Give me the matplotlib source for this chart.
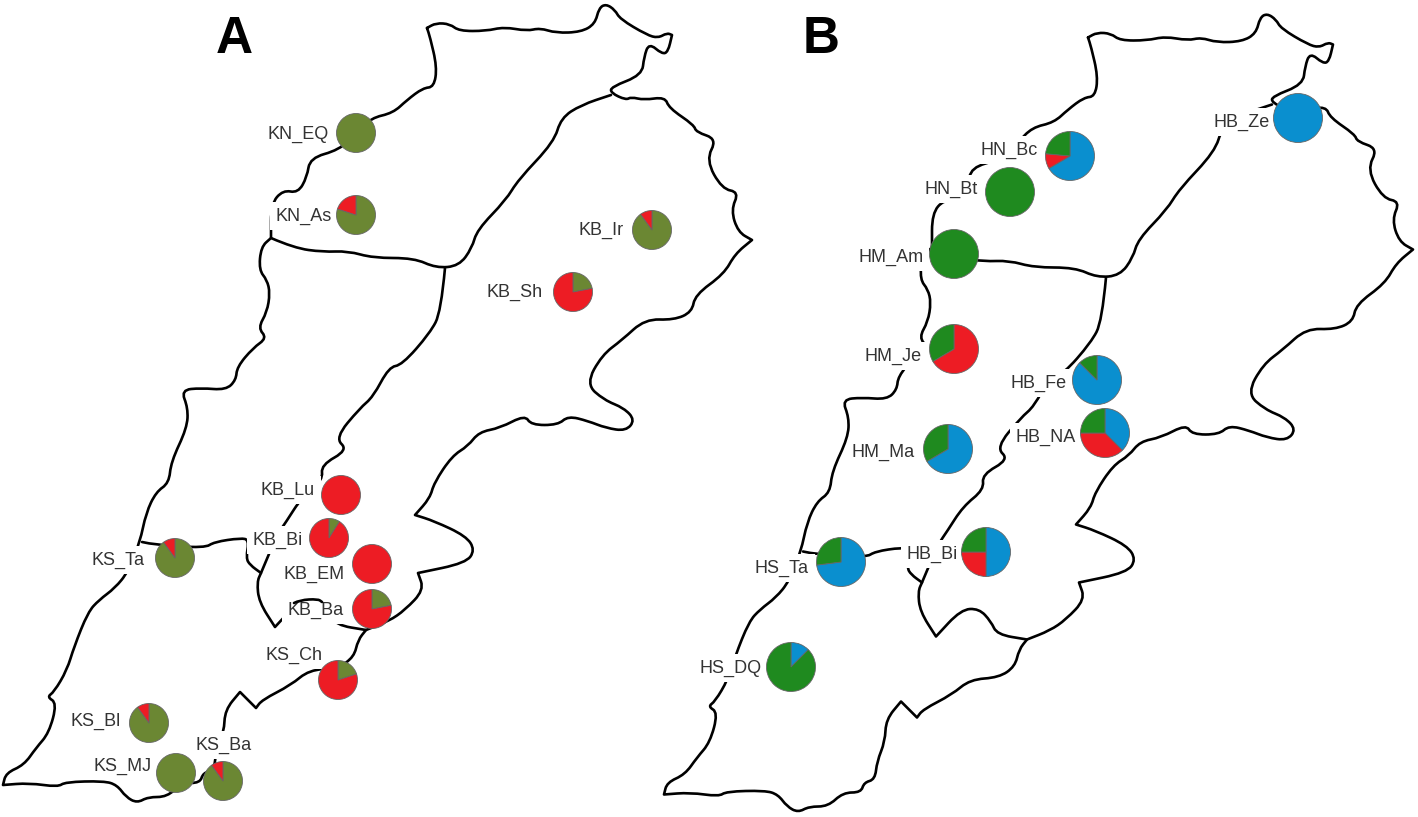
# plot.py
# Two maps side by side, pie charts of lineage shares per site.
import matplotlib
matplotlib.use('Agg')
import matplotlib.pyplot as plt
from matplotlib.path import Path
from matplotlib.patches import PathPatch

plt.rcParams['font.family'] = ['Liberation Sans', 'DejaVu Sans']

OLIVE = '#6b8733'
GREEN = '#1f8a1f'
RED = '#ed1c24'
BLUE = '#0a8fcf'

# Map lines in picture pixels. A repeated point is a sharp corner.
outer_x = [427, 427, 436, 450, 459, 486, 504, 527, 540, 556, 581, 595, 599, 606, 615, 620, 647, 658, 667, 672, 672, 668, 662, 649,
           644, 642, 611, 611, 626, 631, 644, 665, 669, 694, 696, 717, 706, 722, 739, 731, 738, 752, 752, 735, 724, 695, 692,
           674, 645, 622, 602, 586, 604, 624, 635, 626, 606, 588, 568, 558, 531, 525, 500, 479, 468, 452, 434, 430, 415, 415,
           434, 466, 475, 466, 418, 418, 424, 405, 389, 366, 366, 358, 354, 338, 309, 291, 262, 256, 256, 240, 240, 225, 224, 216, 214, 203,
           200, 182, 167, 148, 137, 126, 117, 104, 65, 58, 29, 3, 3, 6, 24, 36, 49, 57, 47, 54, 67, 74, 88, 99, 115,
           128, 140, 146, 156, 169, 171, 187, 188, 181, 201, 226, 236, 237, 253, 267, 258, 267, 270, 267, 259, 261, 271, 271,
           271, 283, 298, 307, 310, 339, 357, 371, 393, 407, 423, 434, 437, 430, 427]
outer_y = [28, 28, 23, 24, 31, 31, 27, 31, 28, 33, 32, 24, 8, 4, 10, 19, 35, 38, 33, 35, 35, 52, 54, 43,
           57, 75, 87, 93, 100, 97, 100, 97, 108, 125, 132, 139, 160, 189, 192, 210, 232, 240, 240, 254, 274, 295, 312,
           320, 319, 340, 355, 384, 400, 408, 420, 431, 428, 421, 416, 425, 425, 415, 428, 432, 446, 456, 483, 498, 515, 515,
           521, 536, 550, 563, 573, 573, 590, 610, 621, 630, 630, 640, 657, 668, 670, 685, 700, 708, 708, 692, 692, 710, 732, 752, 770, 773,
           783, 783, 797, 797, 803, 797, 785, 781, 782, 787, 783, 785, 785, 773, 765, 748, 733, 703, 697, 692, 670, 647, 612, 600, 588,
           572, 542, 513, 492, 483, 462, 428, 408, 390, 388, 390, 380, 367, 348, 338, 328, 312, 293, 280, 270, 247, 238, 238,
           204, 190, 193, 177, 158, 150, 133, 118, 113, 100, 88, 87, 67, 37, 28]
north_x = [271, 294, 323, 348, 373, 414, 436, 459, 472, 477, 506, 518, 554, 561, 581, 611]
north_y = [238, 248, 252, 251, 258, 258, 268, 266, 248, 230, 200, 180, 142, 118, 105, 95]
middle_x = [445, 441, 430, 402, 389, 373, 360, 335, 348, 321, 323, 302, 286, 277, 261, 261, 257, 259, 275, 275, 300, 318, 330, 336, 366]
middle_y = [268, 312, 333, 365, 367, 397, 408, 438, 450, 465, 480, 497, 522, 535, 573, 573, 582, 602, 627, 627, 600, 599, 612, 625, 630]
south_x = [142, 155, 205, 214, 241, 249, 246, 250, 261]
south_y = [542, 545, 548, 542, 538, 540, 558, 565, 573]
# bit of the middle line that stays visible above the KB_Ba label in panel A
arc_x = [294, 300, 318, 322]
arc_y = [603, 600, 599, 602]

# Panel B shows the same map moved by this much
panel_b_dx = 661
panel_b_dy = 9.5

# Sites: name, pie centre, label centre, shares clockwise from 12 o'clock
a_names = ['KN_EQ', 'KN_As', 'KB_Ir', 'KB_Sh', 'KB_Lu', 'KB_Bi', 'KB_EM', 'KB_Ba', 'KS_Ta', 'KS_Ch', 'KS_Bl', 'KS_MJ', 'KS_Ba']
a_x = [356, 356, 652, 573, 341, 329, 372, 372, 175, 338, 149, 176, 223]
a_y = [133, 215, 230, 292, 495, 538, 564, 609, 558, 680, 723, 773, 781]
a_label_x = [298, 304, 601, 515, 288, 278, 314, 316, 118, 294, 96, 123, 224]
a_label_y = [134, 216, 230, 292, 490, 540, 574, 610, 560, 655, 721, 766, 745]
a_olive = [1, 0.8, 0.9, 0.22, 0, 0.09, 0, 0.22, 0.9, 0.2, 0.9, 1, 0.9]
a_red = [0, 0.2, 0.1, 0.78, 1, 0.91, 1, 0.78, 0.1, 0.8, 0.1, 0, 0.1]

b_names = ['HN_Bc', 'HN_Bt', 'HM_Am', 'HM_Je', 'HB_Fe', 'HB_Ze', 'HM_Ma', 'HB_NA', 'HB_Bi', 'HS_Ta', 'HS_DQ']
b_x = [1070, 1010, 954, 954, 1097, 1298, 948, 1105, 986, 841, 791]
b_y = [156, 192, 254, 349, 380, 118, 449, 433, 552, 562, 667]
b_label_x = [1009, 951, 891, 893, 1039, 1242, 883, 1046, 932, 782, 731]
b_label_y = [150, 189, 257, 356, 383, 122, 452, 437, 554, 568, 668]
b_blue = [0.665, 0, 0, 0, 0.875, 1, 0.665, 0.375, 0.5, 0.73, 0.125]
b_red = [0.10, 0, 0, 0.665, 0, 0, 0, 0.375, 0.25, 0, 0]
b_green = [0.235, 1, 1, 0.335, 0.125, 0, 0.335, 0.25, 0.25, 0.27, 0.875]

# these labels sit close to a line that stays unbroken
tight_labels = ['KS_MJ', 'HM_Ma']


def draw_line(ax, xs, ys, zorder=1):
    # quadratic curves with the traced points as control points, so the borders are not jagged
    pts = list(zip(xs, ys))
    verts = [pts[0]]
    codes = [Path.MOVETO]
    for p, q in zip(pts[1:-1], pts[2:]):
        verts += [p, ((p[0] + q[0]) / 2, (p[1] + q[1]) / 2)]
        codes += [Path.CURVE3, Path.CURVE3]
    verts.append(pts[-1])
    codes.append(Path.LINETO)
    ax.add_patch(PathPatch(Path(verts, codes), fill=False, edgecolor='black', lw=1.9, zorder=zorder,
                           capstyle='round', joinstyle='round'))


def draw_pie(ax, x, y, r, values, colors):
    # drop empty slices, they would leave a spoke on a full circle
    keep = [i for i, v in enumerate(values) if v > 0]
    # y axis is flipped, so start at -90 and let angles run up to go clockwise on screen
    ax.pie([values[i] for i in keep], colors=[colors[i] for i in keep], center=(x, y), radius=r, startangle=-90,
           counterclock=True, frame=True, wedgeprops={'edgecolor': '#666666', 'linewidth': 0.6, 'zorder': 4})


def draw_label(ax, x, y, name):
    pad = 1 if name in tight_labels else 4
    ax.text(x, y, name, ha='center', va='center', fontsize=13, color='#333333', zorder=3,
            bbox={'facecolor': 'white', 'edgecolor': 'none', 'pad': pad})


fig = plt.figure(figsize=(14.18, 8.17), dpi=100)
ax = fig.add_axes([0, 0, 1, 1])

for dx, dy in [(0, 0), (panel_b_dx, panel_b_dy)]:
    for xs, ys in [(outer_x, outer_y), (north_x, north_y), (middle_x, middle_y), (south_x, south_y)]:
        draw_line(ax, [x + dx for x in xs], [y + dy for y in ys])

for i, name in enumerate(a_names):
    draw_pie(ax, a_x[i], a_y[i], 19.5, [a_olive[i], a_red[i]], [OLIVE, RED])
    draw_label(ax, a_label_x[i], a_label_y[i], name)
draw_line(ax, arc_x, arc_y, zorder=3.5)

for i, name in enumerate(b_names):
    draw_pie(ax, b_x[i], b_y[i], 24.5, [b_blue[i], b_red[i], b_green[i]], [BLUE, RED, GREEN])
    draw_label(ax, b_label_x[i], b_label_y[i], name)

ax.text(234, 39, 'A', ha='center', va='center', fontsize=37, fontweight='bold', color='black')
ax.text(821, 39, 'B', ha='center', va='center', fontsize=37, fontweight='bold', color='black')

ax.set_xlim(0, 1418)
ax.set_ylim(817, 0)
ax.axis('off')

fig.savefig('out.png', dpi=100)
